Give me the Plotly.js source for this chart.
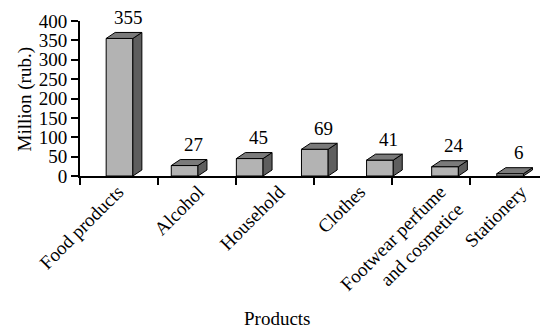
<!DOCTYPE html>
<html>
<head>
<meta charset="utf-8">
<script src="https://cdn.plot.ly/plotly-3.0.1.min.js"></script>
<style>
  html, body { margin: 0; padding: 0; background: #fff; }
  #chart { width: 544px; height: 328px; }
</style>
</head>
<body>
<div id="chart"></div>
<script>
// Sales by product group, million roubles
const categories = ['Food products', 'Alcohol', 'Household', 'Clothes',
                    'Footwear perfume<br>and cosmetice', 'Stationery'];
const values = [355, 27, 45, 69, 41, 24, 6];
const yTickVals = [0, 50, 100, 150, 200, 250, 300, 350, 400];

// Plot geometry
const W = 544, H = 328;
const M = { l: 80, r: 4, t: 21, b: 152 };
const plotW = W - M.l - M.r;
const plotH = H - M.t - M.b;
const barXRange = [-0.607, 6.459];
const tickXRange = [-0.5, 5.39];
const labelXRange = [-0.471, 5.236];
const yRange = [0, 400];
const barWidth = 0.41;

// 3-D depth of each column, in pixels, converted to data units
const depthPx = { x: 9, y: 6 };
const dxData = depthPx.x * (barXRange[1] - barXRange[0]) / plotW;
const dyData = depthPx.y * (yRange[1] - yRange[0]) / plotH;

const FONT = '"Liberation Serif", "Times New Roman", serif';
const FS = 19;
const faceFront = '#b3b3b3';
const faceTop = '#7a7a7a';
const faceSide = '#5e5e5e';

const traces = [];

// Front faces
traces.push({
  type: 'bar',
  x: values.map((_, i) => i),
  y: values,
  width: barWidth,
  marker: { color: faceFront, line: { color: '#000', width: 1 } },
  hoverinfo: 'x+y',
  showlegend: false,
  xaxis: 'x', yaxis: 'y'
});

// Side and top faces
values.forEach((v, i) => {
  const xl = i - barWidth / 2, xr = i + barWidth / 2;
  traces.push({
    type: 'scatter', mode: 'lines', fill: 'toself',
    x: [xr, xr + dxData, xr + dxData, xr, xr],
    y: [0, dyData, v + dyData, v, 0],
    fillcolor: faceSide, line: { color: '#000', width: 1 },
    hoverinfo: 'skip', showlegend: false, xaxis: 'x', yaxis: 'y'
  });
  traces.push({
    type: 'scatter', mode: 'lines', fill: 'toself',
    x: [xl, xl + dxData, xr + dxData, xr, xl],
    y: [v, v + dyData, v + dyData, v, v],
    fillcolor: faceTop, line: { color: '#000', width: 1 },
    hoverinfo: 'skip', showlegend: false, xaxis: 'x', yaxis: 'y'
  });
});

// Empty traces so the label and tick axes are drawn
traces.push({ type: 'scatter', x: [null], y: [null], xaxis: 'x2', yaxis: 'y',
              hoverinfo: 'skip', showlegend: false });
traces.push({ type: 'scatter', x: [null], y: [null], xaxis: 'x3', yaxis: 'y',
              hoverinfo: 'skip', showlegend: false });

const annotations = values.map((v, i) => ({
  x: i, y: v, xref: 'x', yref: 'y',
  text: String(v), showarrow: false,
  xanchor: 'center', yanchor: 'middle',
  xshift: 9, yshift: 21,
  font: { family: FONT, size: FS, color: '#000' }
}));

annotations.push({
  xref: 'paper', yref: 'paper', x: 0.4296, y: -0.92,
  text: 'Products', showarrow: false,
  xanchor: 'center', yanchor: 'middle',
  font: { family: FONT, size: FS, color: '#000' }
});
annotations.push({
  xref: 'paper', yref: 'paper', x: -0.1196, y: 0.5,
  text: 'Million (rub.)', showarrow: false, textangle: -90,
  xanchor: 'center', yanchor: 'middle',
  font: { family: FONT, size: FS, color: '#000' }
});

const layout = {
  width: W, height: H,
  margin: M,
  paper_bgcolor: '#fff', plot_bgcolor: '#fff',
  font: { family: FONT, size: FS, color: '#000' },
  showlegend: false,
  xaxis: {
    range: barXRange, showticklabels: false, ticks: '',
    showline: false, showgrid: false, zeroline: false, fixedrange: true
  },
  xaxis2: {
    overlaying: 'x', anchor: 'y', side: 'bottom',
    range: labelXRange,
    tickmode: 'array',
    tickvals: categories.map((_, i) => i),
    ticktext: categories,
    tickangle: -45, ticks: '',
    showline: false, showgrid: false, zeroline: false,
    tickfont: { family: FONT, size: FS, color: '#000' }
  },
  xaxis3: {
    overlaying: 'x', anchor: 'y', side: 'bottom',
    range: tickXRange,
    tickmode: 'array',
    tickvals: categories.map((_, i) => i - 0.5).concat([categories.length - 0.5]),
    showticklabels: false,
    ticks: 'outside', ticklen: 7, tickwidth: 2, tickcolor: '#000',
    showline: true, linecolor: '#000', linewidth: 2,
    showgrid: false, zeroline: false, layer: 'above traces'
  },
  yaxis: {
    range: yRange,
    tickmode: 'array', tickvals: yTickVals,
    ticks: 'outside', ticklen: 7, tickwidth: 2, tickcolor: '#000',
    showline: true, linecolor: '#000', linewidth: 2,
    showgrid: false, zeroline: false,
    tickfont: { family: FONT, size: FS, color: '#000' }
  },
  annotations: annotations
};

Plotly.newPlot('chart', traces, layout, { displayModeBar: false, staticPlot: true });
</script>
</body>
</html>
